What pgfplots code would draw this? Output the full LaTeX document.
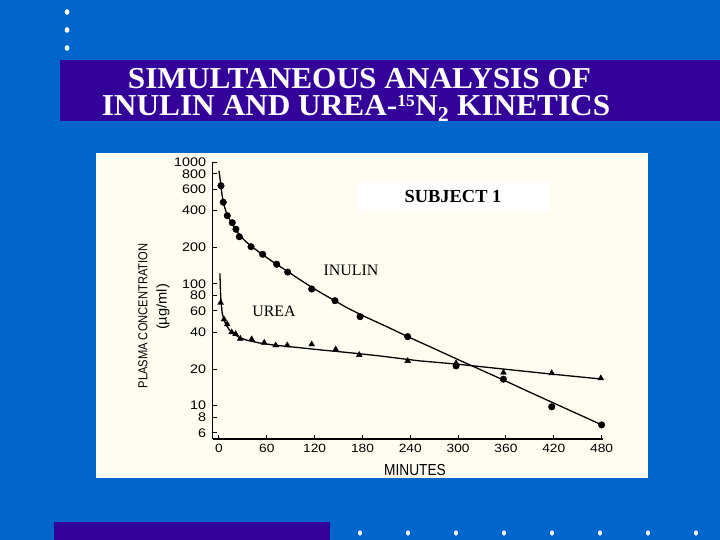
\documentclass[border=0pt]{standalone}
\usepackage{fontspec}
\setmainfont{Liberation Serif}
\newfontfamily\tickfont[FakeStretch=1.15]{Liberation Sans}
\newfontfamily\labfont[FakeStretch=0.86]{Liberation Sans}
\newfontfamily\unitfont[FakeStretch=1.05]{Liberation Sans}
\newfontfamily\titlefont[FakeStretch=1.03]{Liberation Serif}
\usepackage{pgfplots}
\pgfplotsset{compat=1.18}
\definecolor{slidebg}{RGB}{0,102,204}
\definecolor{band}{RGB}{51,0,153}
\definecolor{cream}{RGB}{255,253,242}
\begin{document}
\begin{tikzpicture}[x=1bp,y=1bp]
% slide background
\fill[slidebg] (0,0) rectangle (720,540);
% bullets top-left
\foreach \yy in {528,510,492} \fill[white] (67,\yy) ellipse (2.4 and 2.8);
% title band
\fill[band] (60,419.3) rectangle (720,480);
\node[anchor=base, white, font=\titlefont\bfseries\fontsize{30.5}{32}\selectfont, inner sep=0, text depth=0bp] at (359.5,451.5) {SIMULTANEOUS ANALYSIS OF};
\node[anchor=base, white, font=\titlefont\bfseries\fontsize{30.5}{32}\selectfont, inner sep=0, text height=20bp] at (356,424) {INULIN AND UREA-\textsuperscript{\fontsize{17}{18}\selectfont 15}N\textsubscript{2} KINETICS};
% bottom decoration
\fill[band] (54,0) rectangle (330,18);
\foreach \xx in {360,408,456,504,552,600,648,696} \fill[white] (\xx,7) ellipse (2.1 and 2.6);
% chart background
\fill[cream] (96,62) rectangle (648,387);
\fill[white] (358,328) rectangle (550,359);
\node[font=\bfseries\fontsize{18.5}{20}\selectfont] at (453,344) {SUBJECT 1};
\node[font=\fontsize{16}{18}\selectfont] at (351,270) {INULIN};
\node[font=\fontsize{16}{18}\selectfont] at (274,229) {UREA};
\node[rotate=90, font=\labfont\fontsize{13}{14}\selectfont] at (143,224) {PLASMA CONCENTRATION};
\node[rotate=90, font=\unitfont\fontsize{14}{15}\selectfont] at (163,233) {(µg/ml)};
\node[font=\labfont\fontsize{16}{17}\selectfont] at (415,70) {MINUTES};
\begin{axis}[
  at={(212.6bp,101bp)}, anchor=south west,
  scale only axis, width=390.6bp, height=276.9bp,
  xmin=-8, xmax=482,
  ymode=log, ymin=5.33, ymax=1000,
  axis x line*=bottom, axis y line*=left,
  axis line style={line width=1.7bp},
  tick align=inside, major tick length=4bp,
  tick style={line width=1bp, black},
  xtick={0,60,120,180,240,300,360,420,480},
  ytick={6,8,10,20,40,60,80,100,200,400,600,800,1000},
  yticklabels={6,8,10,20,40,60,80,100,200,400,600,800,1000},
  minor ytick={}, log ticks with fixed point,
  /pgf/number format/assume math mode=true,
  xticklabel style={font=\tickfont\fontsize{12}{13}\selectfont, yshift=-2bp},
  yticklabel style={font=\tickfont\fontsize{12.5}{13}\selectfont, xshift=-3bp},
  clip=false,
]
% inulin fitted curve
\addplot[black, line width=1.3bp, no marks] coordinates {
(0,850)(1,760)(2.5,630)(4,530)(6,450)(10,372)(15,322)(20,285)(25,256)(32,228)(40,205)(55,173)(70,148)(85,128)(100,110)(115,95)(130,83)(145,73)(160,64)(180,55)(210,44.7)(240,36.1)(270,29.4)(300,23.9)(330,19.5)(360,15.9)(390,12.9)(420,10.5)(450,8.56)(482,6.87)};
% urea fitted curve
\addplot[black, line width=1.3bp, no marks] coordinates {
(1.2,122)(1.8,90)(2.5,72)(4,58)(6,51)(9,46)(13,42)(18,39)(25,36.5)(35,34.5)(50,32.8)(70,31.4)(100,30)(130,28.6)(160,27.4)(200,25.7)(250,23.4)(300,21.9)(360,19.9)(420,18.1)(482,16.5)};
% urea data
\addplot[only marks, mark=triangle*, mark size=3.4bp, black] coordinates {
(2.1,70)(6.3,51.2)(10.4,46.6)(15.9,40.1)(20.9,38.8)(26.7,35.5)(41,35.1)(56.8,32.9)(71.1,31.3)(85.7,31.3)(116.3,31.9)(146.4,29.0)(176,26.1)(236.7,23.3)(297.4,22.3)(356.8,18.7)(417.4,18.5)(479,16.8)};
% inulin data
\addplot[only marks, mark=*, mark size=3.3bp, black] coordinates {
(2.5,640)(5.4,468)(10.4,363)(16.7,318)(21.3,281)(25.5,244)(40.2,202)(54.8,175)(72.4,145)(86.2,125)(116.3,90.8)(145.5,72.8)(177,53.8)(236.7,36.9)(297.4,21.2)(356.8,16.5)(417.4,9.8)(480,6.95)};
\end{axis}
\end{tikzpicture}
\end{document}
